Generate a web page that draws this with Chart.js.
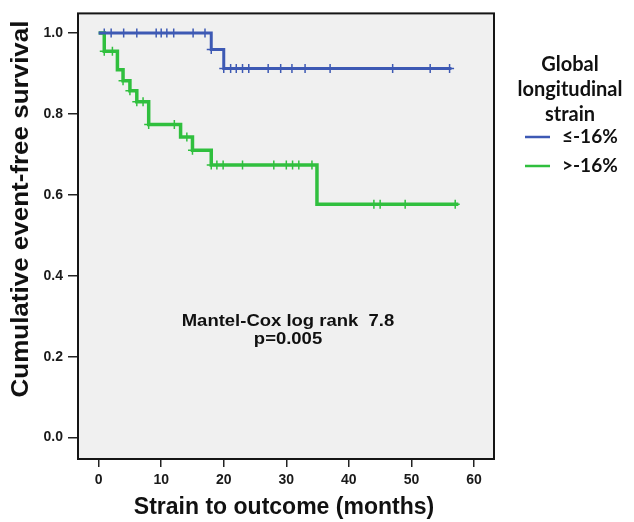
<!DOCTYPE html>
<html>
<head>
<meta charset="utf-8">
<script src="https://cdn.jsdelivr.net/npm/chart.js@4"></script>
<style>
  html, body { margin: 0; padding: 0; background: #fff; }
  #wrap { width: 634px; height: 522px; }
</style>
</head>
<body>
<div id="wrap"><canvas id="km"></canvas></div>
<script>
// Kaplan-Meier steps (months, cumulative survival)
const blueTimes = [0, 18.0, 20.0, 56.4];
const blueSurv = [1.0, 0.959, 0.912, 0.912];
const blueCensor = [0.9, 2.0, 4.0, 6.1, 9.2, 10.0, 10.9, 12.0, 15.1, 17.0, 18.0, 20.0, 21.1, 22.0, 23.0, 24.0, 27.1, 29.1, 30.9, 33.0, 37.0, 47.0, 53.0, 56.1];

const greenTimes = [0, 0.9, 3.0, 3.9, 5.0, 6.1, 8.0, 13.1, 15.0, 18.0, 34.9, 57.5];
const greenSurv = [1.0, 0.955, 0.909, 0.882, 0.857, 0.830, 0.774, 0.743, 0.710, 0.674, 0.577, 0.577];
const greenCensor = [0.9, 2.2, 3.9, 5.0, 6.1, 7.1, 8.0, 12.1, 14.1, 15.0, 18.0, 18.9, 19.9, 23.0, 28.0, 30.0, 31.0, 32.0, 34.1, 44.0, 45.0, 49.0, 57.0];

const xTicks = [0, 10, 20, 30, 40, 50, 60];
const yTicks = [0, 0.2, 0.4, 0.6, 0.8, 1.0];

const groupNames = ['≤-16%', '>-16%'];
const legendTitle = ['Global', 'longitudinal', 'strain'];
const statLines = ['Mantel-Cox log rank  7.8', 'p=0.005'];

const BLUE = '#3d59b4';
const GREEN = '#30bf3e';

// survival value at time t (right-continuous)
function survAt(times, surv, t) {
    let s = surv[0];
    for (let i = 0; i < times.length; i++) {
        if (t >= times[i]) s = surv[i];
    }
    return s;
}

function toPoints(times, surv) {
    return times.map((t, i) => ({ x: t, y: surv[i] }));
}

function censorPoints(cens, times, surv) {
    return cens.map(t => ({ x: t, y: survAt(times, surv, t) }));
}

// текст, растянутый по ширине (в оригинале шрифт шире Arial)
function wideText(ctx, s, x, y, stretch, angle) {
    ctx.save();
    ctx.translate(x, y);
    if (angle) ctx.rotate(angle);
    ctx.scale(stretch, 1);
    ctx.fillText(s, 0, 0);
    ctx.restore();
}

// фон, рамка и все подписи
const decorPlugin = {
    id: 'decor',
    beforeDatasetsDraw(chart) {
        const a = chart.chartArea;
        const ctx = chart.ctx;
        ctx.save();
        ctx.fillStyle = '#f0f0f0';
        ctx.fillRect(a.left, a.top, a.right - a.left, a.bottom - a.top);
        ctx.restore();
    },
    afterDraw(chart) {
        const a = chart.chartArea;
        const ctx = chart.ctx;
        ctx.save();
        ctx.strokeStyle = '#151515';
        ctx.lineWidth = 2;
        ctx.strokeRect(a.left, a.top, a.right - a.left, a.bottom - a.top);

        // axis titles
        ctx.fillStyle = '#111';
        ctx.textAlign = 'center';
        ctx.textBaseline = 'middle';
        ctx.font = 'bold 23px "Liberation Sans", Arial, sans-serif';
        ctx.fillText('Strain to outcome (months)', 284, 508);
        ctx.font = 'bold 23px "Liberation Sans", Arial, sans-serif';
        wideText(ctx, 'Cumulative event-free survival', 22, 209, 1.13, -Math.PI / 2);

        // log rank text
        ctx.font = 'bold 16.5px "Liberation Sans", Arial, sans-serif';
        wideText(ctx, statLines[0], 288, 321, 1.12);
        wideText(ctx, statLines[1], 288, 339, 1.12);

        // legend
        ctx.font = 'bold 20px Lato, "Open Sans", sans-serif';
        legendTitle.forEach((s, i) => ctx.fillText(s, 570, 65 + i * 25));
        const cols = [BLUE, GREEN];
        ctx.font = 'bold 19px Lato, "Open Sans", sans-serif';
        ctx.textAlign = 'left';
        groupNames.forEach((s, i) => {
            const y = 137 + i * 29;
            ctx.strokeStyle = cols[i];
            ctx.lineWidth = 2.5;
            ctx.beginPath();
            ctx.moveTo(525, y);
            ctx.lineTo(550, y);
            ctx.stroke();
            ctx.fillStyle = '#111';
            ctx.fillText(s, 562, y);
        });
        ctx.restore();
    }
};

const tickFont = { family: '"Liberation Sans", Arial, sans-serif', size: 14, weight: 'bold' };

new Chart(document.getElementById('km'), {
    type: 'line',
    data: {
        datasets: [
            {
                data: toPoints(blueTimes, blueSurv),
                borderColor: BLUE, borderWidth: 3, stepped: 'before',
                pointRadius: 0, fill: false
            },
            {
                data: toPoints(greenTimes, greenSurv),
                borderColor: GREEN, borderWidth: 3.5, stepped: 'before',
                pointRadius: 0, fill: false
            },
            {
                data: censorPoints(blueCensor, blueTimes, blueSurv),
                showLine: false, pointStyle: 'cross', pointRadius: 4.5,
                borderColor: BLUE, pointBorderWidth: 1.5
            },
            {
                data: censorPoints(greenCensor, greenTimes, greenSurv),
                showLine: false, pointStyle: 'cross', pointRadius: 4.5,
                borderColor: GREEN, pointBorderWidth: 1.5
            }
        ]
    },
    options: {
        responsive: true,
        maintainAspectRatio: false,
        animation: false,
        layout: { padding: { left: 0, right: 140, top: 12, bottom: 0 } },
        plugins: { legend: { display: false }, tooltip: { enabled: false } },
        scales: {
            x: {
                type: 'linear',
                min: -3.3,
                max: 63.2,
                afterBuildTicks: s => { s.ticks = xTicks.map(v => ({ value: v })); },
                afterFit: s => { s.height = 63; },
                grid: { drawOnChartArea: false, drawTicks: true, tickLength: 8, color: '#222', lineWidth: 1.5 },
                border: { display: false },
                ticks: { font: tickFont, color: '#1a1a1a', padding: 5, maxRotation: 0 }
            },
            y: {
                type: 'linear',
                min: -0.053,
                max: 1.0485,
                afterBuildTicks: s => { s.ticks = yTicks.map(v => ({ value: v })); },
                afterFit: s => { s.width = 78; },
                grid: { drawOnChartArea: false, drawTicks: true, tickLength: 10, color: '#222', lineWidth: 1.5 },
                border: { display: false },
                ticks: { font: tickFont, color: '#1a1a1a', padding: 5, callback: v => v.toFixed(1) }
            }
        }
    },
    plugins: [decorPlugin]
});
</script>
</body>
</html>
